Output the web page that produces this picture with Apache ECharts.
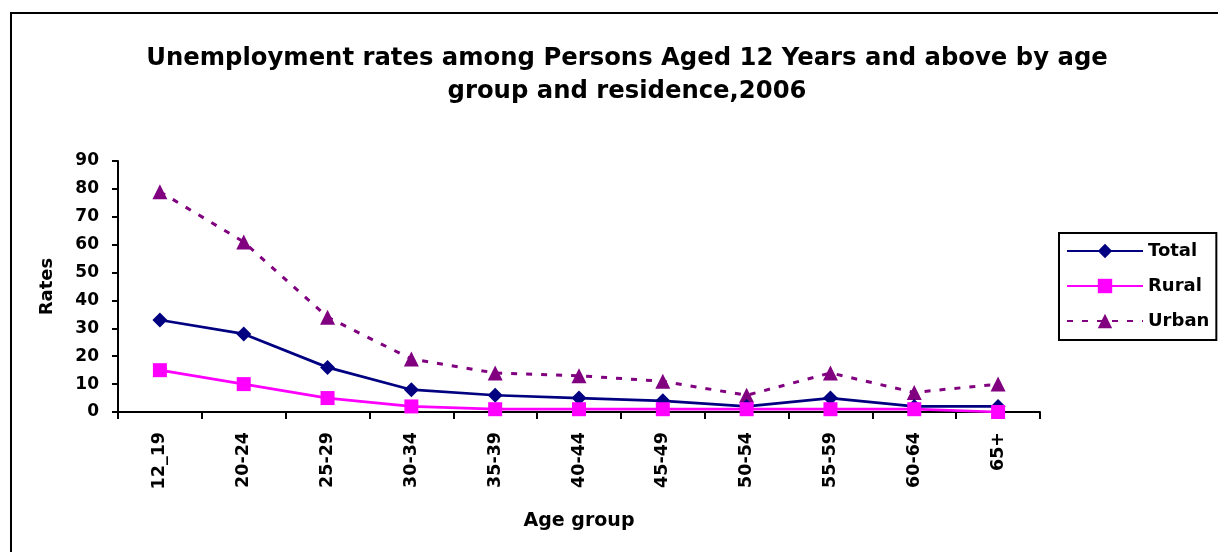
<!DOCTYPE html>
<html>
<head>
<meta charset="utf-8">
<script src="https://cdn.jsdelivr.net/npm/echarts@6/dist/echarts.min.js"></script>
<style>
  html, body { margin: 0; padding: 0; background: #fff; }
  #chart { width: 1218px; height: 552px; }
</style>
</head>
<body>
<div id="chart"></div>
<script>
// Age groups along the x axis
const ageGroups = ['12_19', '20-24', '25-29', '30-34', '35-39', '40-44', '45-49', '50-54', '55-59', '60-64', '65+'];
// Unemployment rates (%) by residence
const totalRates = [33, 28, 16, 8, 6, 5, 4, 2, 5, 2, 2];
const ruralRates = [15, 10, 5, 2, 1, 1, 1, 1, 1, 1, 0];
const urbanRates = [79, 61, 34, 19, 14, 13, 11, 6, 14, 7, 10];
// Y axis scale
const yMin = 0, yMax = 90, yStep = 10;

const FONT = '"DejaVu Sans", "Liberation Sans", Arial, sans-serif';
const chart = echarts.init(document.getElementById('chart'), null, { renderer: 'canvas' });

chart.setOption({
  backgroundColor: '#ffffff',
  animation: false,
  title: {
    text: 'Unemployment rates among Persons Aged 12 Years and above by age\ngroup and residence,2006',
    left: 622,
    textAlign: 'center',
    top: 37,
    textStyle: { fontFamily: FONT, fontWeight: 'bold', fontSize: 24.3, color: '#000', lineHeight: 33 }
  },
  graphic: [{
    type: 'rect',
    shape: { x: 11, y: 13, width: 1400, height: 700 },
    style: { fill: 'none', stroke: '#000', lineWidth: 2 },
    z: -1
  }],
  legend: {
    orient: 'vertical',
    left: 1059,
    top: 233,
    itemWidth: 76,
    itemHeight: 18,
    itemGap: 17,
    padding: [9, 7, 10, 7],
    borderColor: '#000',
    borderWidth: 2,
    textStyle: { fontFamily: FONT, fontWeight: 'bold', fontSize: 18, color: '#000' },
    data: ['Total', 'Rural', 'Urban']
  },
  grid: { left: 118, top: 161, right: 178, bottom: 140, containLabel: false },
  xAxis: {
    type: 'category',
    data: ageGroups,
    boundaryGap: true,
    name: 'Age group',
    nameLocation: 'middle',
    nameGap: 100,
    nameTextStyle: { fontFamily: FONT, fontWeight: 'bold', fontSize: 19, color: '#000' },
    axisLine: { lineStyle: { color: '#000', width: 2 } },
    axisTick: { show: true, alignWithLabel: false, length: 7, lineStyle: { color: '#000', width: 2 } },
    axisLabel: { rotate: 90, margin: 20, fontFamily: FONT, fontWeight: 'bold', fontSize: 17.5, color: '#000' },
    splitLine: { show: false }
  },
  yAxis: {
    type: 'value',
    min: yMin,
    max: yMax,
    interval: yStep,
    name: 'Rates',
    nameLocation: 'middle',
    nameGap: 62,
    nameRotate: 90,
    nameTextStyle: { fontFamily: FONT, fontWeight: 'bold', fontSize: 18, color: '#000' },
    axisLine: { show: true, lineStyle: { color: '#000', width: 2 } },
    axisTick: { show: true, length: 6, lineStyle: { color: '#000', width: 2 } },
    axisLabel: { margin: 19, fontFamily: FONT, fontWeight: 'bold', fontSize: 17, color: '#000' },
    splitLine: { show: false }
  },
  series: [
    {
      name: 'Total',
      type: 'line',
      data: totalRates,
      symbol: 'diamond',
      symbolSize: 15,
      itemStyle: { color: '#000080' },
      lineStyle: { color: '#000080', width: 2.7 },
      z: 3
    },
    {
      name: 'Rural',
      type: 'line',
      data: ruralRates,
      symbol: 'rect',
      symbolSize: 14,
      itemStyle: { color: '#ff00ff' },
      lineStyle: { color: '#ff00ff', width: 2.7 },
      z: 4
    },
    {
      name: 'Urban',
      type: 'line',
      data: urbanRates,
      symbol: 'triangle',
      symbolSize: 15,
      itemStyle: { color: '#800080' },
      lineStyle: { color: '#800080', width: 3, type: [6, 9] },
      z: 2
    }
  ]
});
</script>
</body>
</html>
